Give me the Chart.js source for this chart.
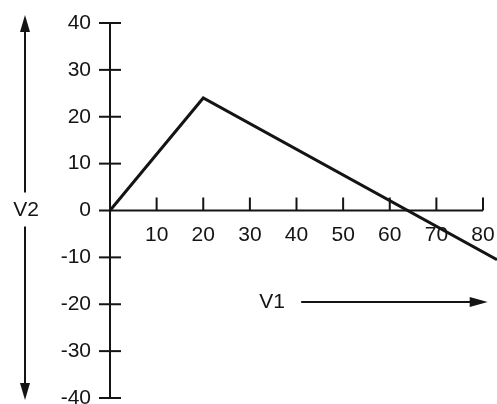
<!DOCTYPE html>
<html>
<head>
<meta charset="utf-8">
<script src="https://cdn.jsdelivr.net/npm/chart.js@4/dist/chart.umd.min.js"></script>
<style>
  html, body { margin: 0; padding: 0; background: #fff; }
  #c { display: block; }
</style>
</head>
<body>
<canvas id="c" width="497" height="404"></canvas>
<script>
// Data
const v1Values = [0, 20, 83];
const v2Values = [0, 24, -10.5];
const xTickValues = [0, 10, 20, 30, 40, 50, 60, 70, 80];
const yTickValues = [-40, -30, -20, -10, 0, 10, 20, 30, 40];
const xAxisTitle = 'V1';
const yAxisTitle = 'V2';

const INK = '#141414';
const FAMILY = '"Liberation Sans", Arial, sans-serif';
const FSIZE = 21;
const FONT = FSIZE + 'px ' + FAMILY;

const points = v1Values.map((x, i) => ({ x: x, y: v2Values[i] }));

function zeroPad(s) {
  s.paddingTop = 0; s.paddingBottom = 0; s.paddingLeft = 0; s.paddingRight = 0;
}

const axesPlugin = {
  id: 'handAxes',
  beforeDatasetsDraw(chart) {
    const ctx = chart.ctx;
    const xs = chart.scales.x, ys = chart.scales.y;
    const x0 = xs.getPixelForValue(0);
    const y0 = ys.getPixelForValue(0);
    ctx.save();
    ctx.strokeStyle = INK;
    ctx.lineWidth = 2;
    ctx.lineCap = 'butt';
    // y axis line
    ctx.beginPath();
    ctx.moveTo(x0, ys.getPixelForValue(40));
    ctx.lineTo(x0, ys.getPixelForValue(-40));
    ctx.stroke();
    // y crossing ticks
    yTickValues.forEach(v => {
      const p = ys.getPixelForValue(v);
      ctx.beginPath();
      ctx.moveTo(x0 - 11, p);
      ctx.lineTo(x0 + (v === 0 ? 0 : 11), p);
      ctx.stroke();
    });
    // x axis line
    ctx.beginPath();
    ctx.moveTo(x0, y0);
    ctx.lineTo(xs.getPixelForValue(80), y0);
    ctx.stroke();
    // x ticks (upward)
    xTickValues.forEach(v => {
      if (v === 0) return;
      const p = xs.getPixelForValue(v);
      ctx.beginPath();
      ctx.moveTo(p, y0 - 13);
      ctx.lineTo(p, y0);
      ctx.stroke();
    });

    // V2 label with double arrow
    ctx.fillStyle = INK;
    ctx.font = FONT;
    ctx.textAlign = 'center';
    ctx.textBaseline = 'middle';
    const ax = 25;
    const top = ys.getPixelForValue(40) - 8;
    const bot = ys.getPixelForValue(-40) + 2;
    ctx.fillText(yAxisTitle, ax + 1, y0);
    ctx.beginPath();
    ctx.moveTo(ax, top + 12);
    ctx.lineTo(ax, y0 - 18);
    ctx.moveTo(ax, y0 + 16);
    ctx.lineTo(ax, bot - 12);
    ctx.stroke();
    ctx.beginPath();
    ctx.moveTo(ax, top);
    ctx.lineTo(ax - 5, top + 17);
    ctx.lineTo(ax + 5, top + 17);
    ctx.closePath();
    ctx.fill();
    ctx.beginPath();
    ctx.moveTo(ax, bot);
    ctx.lineTo(ax - 5, bot - 17);
    ctx.lineTo(ax + 5, bot - 17);
    ctx.closePath();
    ctx.fill();

    // V1 label with arrow
    const ly = ys.getPixelForValue(-19.5);
    ctx.textAlign = 'left';
    ctx.fillText(xAxisTitle, xs.getPixelForValue(32), ly);
    const sx = xs.getPixelForValue(41);
    const ex = xs.getPixelForValue(81);
    ctx.beginPath();
    ctx.moveTo(sx, ly);
    ctx.lineTo(ex - 14, ly);
    ctx.stroke();
    ctx.beginPath();
    ctx.moveTo(ex, ly);
    ctx.lineTo(ex - 18, ly - 5);
    ctx.lineTo(ex - 18, ly + 5);
    ctx.closePath();
    ctx.fill();
    ctx.restore();
  }
};

new Chart(document.getElementById('c'), {
  type: 'scatter',
  data: {
    datasets: [{
      data: points,
      showLine: true,
      borderColor: INK,
      borderWidth: 3,
      pointRadius: 0,
      fill: false,
      tension: 0,
      clip: false
    }]
  },
  options: {
    responsive: false,
    animation: false,
    events: [],
    layout: { autoPadding: false, padding: { top: 23, bottom: 6, left: 0, right: 0 } },
    plugins: { legend: { display: false }, tooltip: { enabled: false } },
    scales: {
      x: {
        type: 'linear',
        min: 0,
        max: 83,
        position: { y: 0 },
        afterFit(s) { s.height = 0; zeroPad(s); },
        afterBuildTicks(s) { s.ticks = xTickValues.map(v => ({ value: v })); },
        grid: { display: false, drawTicks: false },
        border: { display: false },
        ticks: {
          padding: 12,
          maxRotation: 0,
          autoSkip: false,
          color: INK,
          font: { family: FAMILY, size: FSIZE },
          callback: v => (v === 0 ? '' : String(v))
        }
      },
      y: {
        type: 'linear',
        min: -40,
        max: 40,
        position: 'left',
        afterFit(s) { s.width = 110; zeroPad(s); },
        afterBuildTicks(s) { s.ticks = yTickValues.map(v => ({ value: v })); },
        grid: { display: false, drawTicks: false },
        border: { display: false },
        ticks: {
          padding: 19,
          autoSkip: false,
          color: INK,
          font: { family: FAMILY, size: FSIZE },
          callback: v => String(v)
        }
      }
    }
  },
  plugins: [axesPlugin]
});
</script>
</body>
</html>
